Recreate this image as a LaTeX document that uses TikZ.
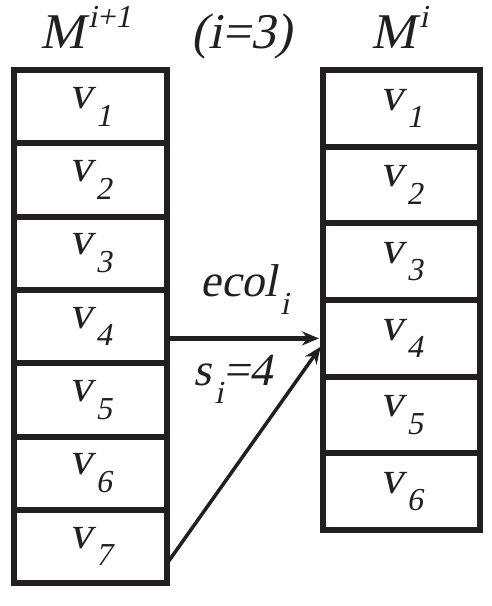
\documentclass[tikz,border=0pt]{standalone}
\usepackage{fontspec}
\newfontfamily\timesit{Liberation Serif}[UprightFeatures={FakeSlant=0.2}]
\usetikzlibrary{positioning,arrows.meta}
\definecolor{ink}{HTML}{231F20}
\newcommand{\lowidx}[1]{\kern3pt\raisebox{-0.38em}{\fontsize{32}{32}\selectfont #1}}
\newcommand{\highidx}[1]{\kern3pt\raisebox{0.42em}{\fontsize{32}{32}\selectfont #1}}
\tikzset{
  lcell/.style = {rectangle, draw=ink, line width=6pt, outer sep=0pt, inner sep=0pt,
                  minimum width=153pt, minimum height=73.3pt,
                  font=\timesit\fontsize{46}{46}\selectfont, text=ink},
  rcell/.style = {lcell, minimum width=157pt, minimum height=76.7pt},
  hdr/.style   = {anchor=base, inner sep=0pt, font=\timesit\fontsize{50}{50}\selectfont, text=ink},
  lbl/.style   = {inner sep=0pt, font=\timesit\fontsize{46}{46}\selectfont, text=ink},
  flow/.style  = {-{Stealth[length=17pt,width=14pt]}, line width=4.5pt, draw=ink, shorten >=4pt},
  flowdiag/.style = {flow, line width=3.5pt},
}
\begin{document}
\begin{tikzpicture}[x=1pt, y=-1pt]
  \useasboundingbox (0,0) rectangle (491,606);
  % column M^{i+1}
  \node[lcell] (l1) at (90.5,106.7) {v\lowidx{1}};
  \node[lcell, below=0pt of l1] (l2) {v\lowidx{2}};
  \node[lcell, below=0pt of l2] (l3) {v\lowidx{3}};
  \node[lcell, below=0pt of l3] (l4) {v\lowidx{4}};
  \node[lcell, below=0pt of l4] (l5) {v\lowidx{5}};
  \node[lcell, below=0pt of l5] (l6) {v\lowidx{6}};
  \node[lcell, below=0pt of l6] (l7) {v\lowidx{7}};
  % column M^i
  \node[rcell] (r1) at (401.5,108.3) {v\lowidx{1}};
  \node[rcell, below=0pt of r1] (r2) {v\lowidx{2}};
  \node[rcell, below=0pt of r2] (r3) {v\lowidx{3}};
  \node[rcell, below=0pt of r3] (r4) {v\lowidx{4}};
  \node[rcell, below=0pt of r4] (r5) {v\lowidx{5}};
  \node[rcell, below=0pt of r5] (r6) {v\lowidx{6}};
  % headers
  \node[hdr] (hnext) at (86,48) {M\highidx{i+1}};
  \node[hdr] (hidx) at (242,48) {(i=3)};
  \node[hdr] (hcur) at (400,48) {M\highidx{i}};

  \draw[flow] (l4.east |- r4.west) -- node[lbl, above=22pt]{ecol\lowidx{i}}
                                      node[lbl, below=15pt, xshift=-12pt]{s\lowidx{i}=4} (r4.west);
  \draw[flowdiag] ([yshift=-17pt]l7.east) -- ([yshift=-5pt]r4.west);
\end{tikzpicture}
\end{document}
